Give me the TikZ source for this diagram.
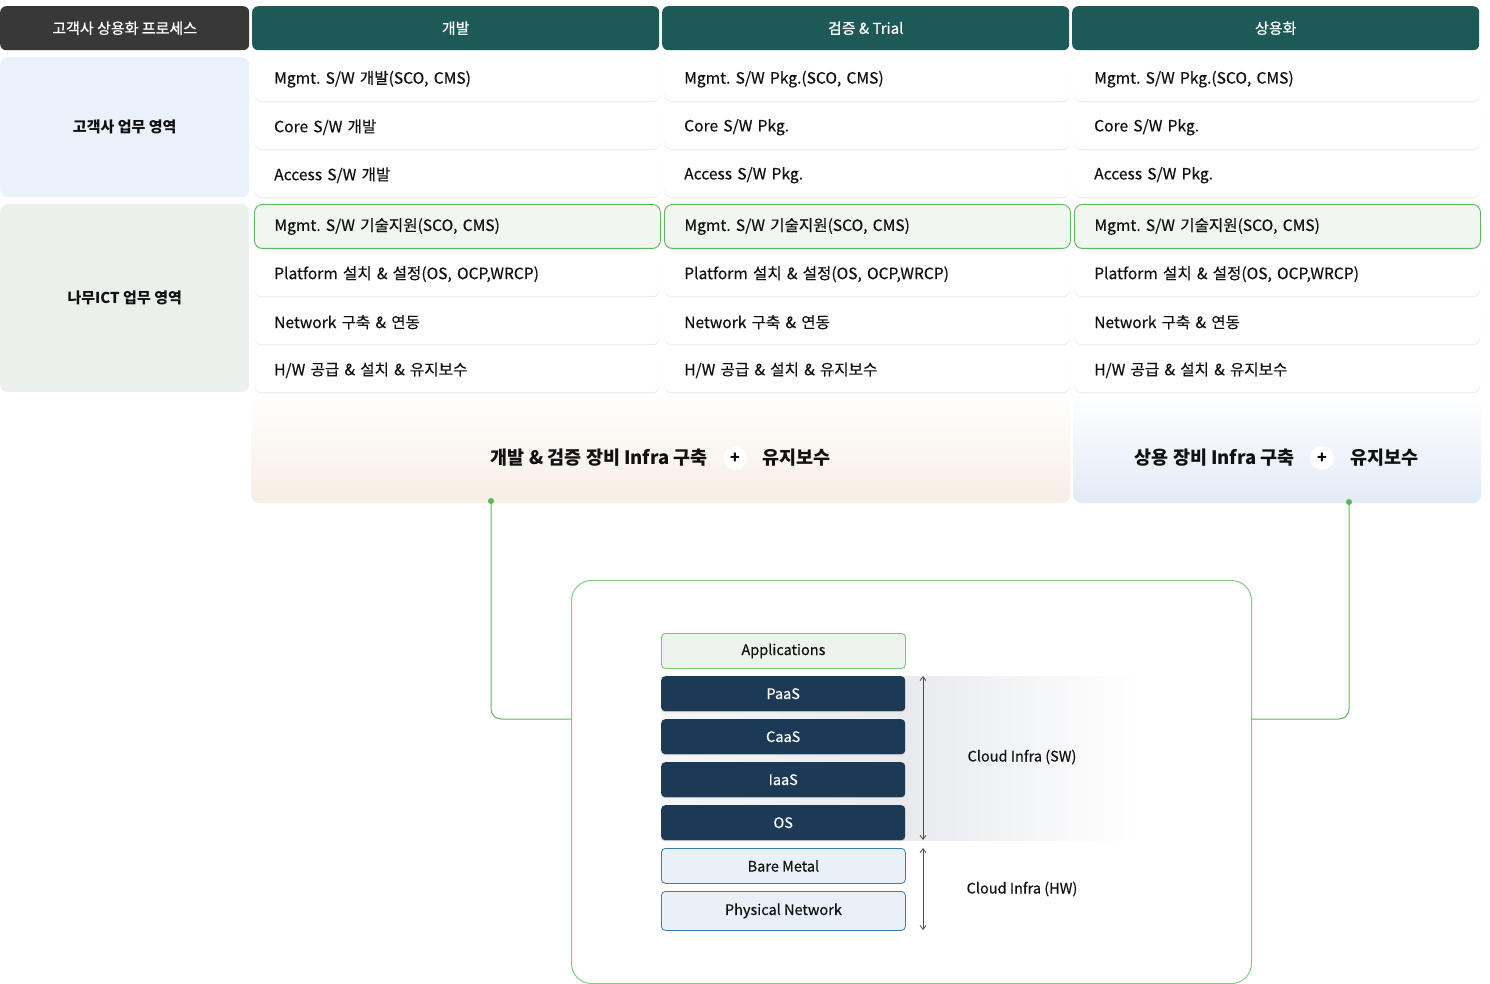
\documentclass[tikz,border=0pt]{standalone}
\usepackage{fontspec}
\setmainfont{Noto Sans CJK KR}
\newfontfamily\regfont{Noto Sans CJK KR}[FakeBold=0.35]
\newfontfamily\medfont{Noto Sans CJK KR}[FakeBold=0.9]
\usetikzlibrary{arrows.meta}
\definecolor{hdrdark}{HTML}{383838}
\definecolor{teal}{HTML}{1D5956}
\definecolor{lblblue}{HTML}{E9F1FA}
\definecolor{lblgreen}{HTML}{ECF0EC}
\definecolor{hlfill}{HTML}{F1F6F1}
\definecolor{hlborder}{HTML}{5CB85C}
\definecolor{navy}{HTML}{1C3A56}
\definecolor{appfill}{HTML}{EDF2ED}
\definecolor{appborder}{HTML}{7DC57D}
\definecolor{hwfill}{HTML}{E8F1F8}
\definecolor{hwborder}{HTML}{3A7CA5}
\definecolor{bigborder}{HTML}{86C986}
\definecolor{connc}{HTML}{5CB85C}
\definecolor{bandorange}{HTML}{F7EEE4}
\definecolor{bandblue}{HTML}{E3EBF7}
\definecolor{cloudgray}{HTML}{E8EAEE}
\definecolor{txt}{HTML}{111111}
\frenchspacing
\begin{document}
\begin{tikzpicture}[x=1pt,y=-1pt,
  hdr/.style={anchor=north west,rounded corners=6pt,minimum height=44pt,text=white,font=\fontsize{15}{18}\selectfont\medfont,inner sep=0pt},
  lbl/.style={anchor=north west,rounded corners=8pt,minimum width=249pt,text=txt,font=\fontsize{15}{18}\selectfont\bfseries,inner sep=0pt},
  cell/.style={anchor=north west,rounded corners=8pt,fill=white,minimum height=44pt,text width=366pt,inner xsep=20pt,inner ysep=0pt,align=left,text=txt,font=\fontsize{15.6}{18}\selectfont\regfont,
    preaction={fill=black!7,transform canvas={yshift=-1.2pt}}},
  hl/.style={cell,fill=hlfill,draw=hlborder,line width=0.9pt,preaction={}},
  layer/.style={anchor=north west,rounded corners=4pt,minimum width=244pt,minimum height=35pt,inner sep=0pt,font=\fontsize{14.5}{17}\selectfont\regfont},
  sw/.style={layer,fill=navy,text=white,preaction={fill=black!20,transform canvas={yshift=-1pt}}},
  hw/.style={layer,fill=hwfill,draw=hwborder,line width=0.8pt,text=txt},
  band/.style={font=\fontsize{18.5}{22}\selectfont\bfseries,text=txt,inner sep=0pt},
  plus/.style={circle,fill=white,minimum size=24pt,inner sep=0pt,font=\fontsize{16}{16}\selectfont\bfseries},
  conn/.style={draw=connc,line width=1pt,rounded corners=10pt},
  dim/.style={draw=black!70,line width=0.8pt,{Straight Barb[length=4pt,width=6pt]}-{Straight Barb[length=4pt,width=6pt]}},
  side/.style={font=\fontsize{14.5}{17}\selectfont\regfont,text=txt}
]
\useasboundingbox (0,0) rectangle (1490,984);
\fill[white] (0,0) rectangle (1490,984);

% header row
\node[hdr,fill=hdrdark,minimum width=249pt] (h0) at (0,6) {고객사 상용화 프로세스};
\node[hdr,fill=teal,minimum width=407pt] (h1) at (252,6) {개발};
\node[hdr,fill=teal,minimum width=407pt] (h2) at (662,6) {검증 \& Trial};
\node[hdr,fill=teal,minimum width=407pt] (h3) at (1072,6) {상용화};

% left labels
\node[lbl,fill=lblblue,minimum height=140pt] (l1) at (0,57) {고객사 업무 영역};
\node[lbl,fill=lblgreen,minimum height=188pt] (l2) at (0,204) {나무ICT 업무 영역};

% bottom bands
\shade[rounded corners=8pt,top color=white,bottom color=bandorange] (251,392) rectangle (1070,503);
\shade[rounded corners=8pt,top color=white,bottom color=bandblue] (1073,392) rectangle (1481,503);

% cells
\foreach \cx/\c in {254/1,664/2,1074/3}{
  \node[cell] (c\c r1) at (\cx,57) {\ifnum\c=1 Mgmt. S/W 개발(SCO, CMS)\else Mgmt. S/W Pkg.(SCO, CMS)\fi};
  \node[cell] (c\c r2) at (\cx,105) {\ifnum\c=1 Core S/W 개발\else Core S/W Pkg.\fi};
  \node[cell] (c\c r3) at (\cx,153) {\ifnum\c=1 Access S/W 개발\else Access S/W Pkg.\fi};
  \node[hl] (c\c r4) at (\cx,204) {Mgmt. S/W 기술지원(SCO, CMS)};
  \node[cell] (c\c r5) at (\cx,252) {Platform 설치 \& 설정(OS, OCP,WRCP)};
  \node[cell] (c\c r6) at (\cx,300) {Network 구축 \& 연동};
  \node[cell] (c\c r7) at (\cx,348) {H/W 공급 \& 설치 \& 유지보수};
}

% band texts
\node[band,anchor=east] (b1) at (708,458) {개발 \& 검증 장비 Infra 구축};
\node[plus] (p1) at (735,458) {+};
\node[band,anchor=west] (b2) at (762,458) {유지보수};
\node[band,anchor=east] (b3) at (1295,458) {상용 장비 Infra 구축};
\node[plus] (p2) at (1322,458) {+};
\node[band,anchor=west] (b4) at (1350,458) {유지보수};

% big box
\node[draw=bigborder,line width=1pt,rounded corners=20pt,anchor=north west,minimum width=680pt,minimum height=403pt,inner sep=0pt] (big) at (571,580) {};

% connectors
\coordinate (dl) at (491,501);
\coordinate (jl) at (571,719);
\coordinate (dr) at (1349,502);
\coordinate (jr) at (1251,719);
\draw[conn] (dl) |- (jl);
\draw[conn] (dr) |- (jr);
\fill[connc] (dl) circle (3pt);
\fill[connc] (dr) circle (3pt);

% cloud gradient
\shade[left color=white!60!cloudgray,right color=cloudgray] (661,676) rectangle (906,840);
\shade[left color=cloudgray,right color=white] (906,676) rectangle (1140,840);

% stack
\node[layer,fill=appfill,draw=appborder,line width=0.9pt,text=txt] (app) at (661,633) {Applications};
\node[sw] (paas) at (661,676) {PaaS};
\node[sw] (caas) at (661,719) {CaaS};
\node[sw] (iaas) at (661,762) {IaaS};
\node[sw] (os) at (661,805) {OS};
\node[hw] (bm) at (661,848) {Bare Metal};
\node[hw,minimum height=39pt] (pn) at (661,891) {Physical Network};

% dimension arrows
\coordinate (s1) at (923,676);
\coordinate (s2) at (923,840);
\coordinate (w1) at (923,848);
\coordinate (w2) at (923,930);
\draw[dim] (s1) -- (s2);
\draw[dim] (w1) -- (w2);
\node[side] (swl) at (1022,757) {Cloud Infra (SW)};
\node[side] (hwl) at (1022,889) {Cloud Infra (HW)};
\end{tikzpicture}
\end{document}
